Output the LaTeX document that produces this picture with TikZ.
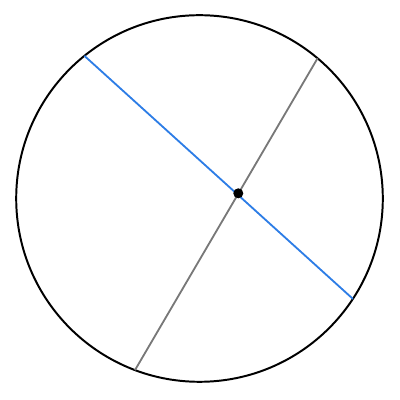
\documentclass[tikz,border=0pt]{standalone}
\usepackage{xcolor}
\usepackage{tikz}
\usetikzlibrary{calc,positioning}
\definecolor{cblue}{RGB}{45,125,230}
\definecolor{cgray}{RGB}{120,120,120}

\begin{document}
\begin{tikzpicture}[x=0.025cm,y=0.025cm]
    \tikzstyle{rim}=[draw=black,line width=1.4pt]
    \tikzstyle{chord}=[line width=1.3pt]
    \tikzstyle{pt}=[circle,fill=black,inner sep=0pt,minimum size=0.25cm]

    \useasboundingbox (0,0) rectangle (400,400);

    \coordinate (o) at (199.5,201.5);
    \draw[rim] (o) circle (183.3);

    \coordinate (a1) at ($(o)+(128.9:183.3)$);
    \coordinate (a2) at ($(o)+(-33.2:183.3)$);
    \coordinate (b1) at ($(o)+(49.9:183.3)$);
    \coordinate (b2) at ($(o)+(-110.6:183.3)$);

    \path
    (b1) edge [chord,draw=cgray] (b2)
    (a1) edge [chord,draw=cblue] (a2);

    \node[pt] (p) at (238.3,206.7) {};
\end{tikzpicture}
\end{document}
